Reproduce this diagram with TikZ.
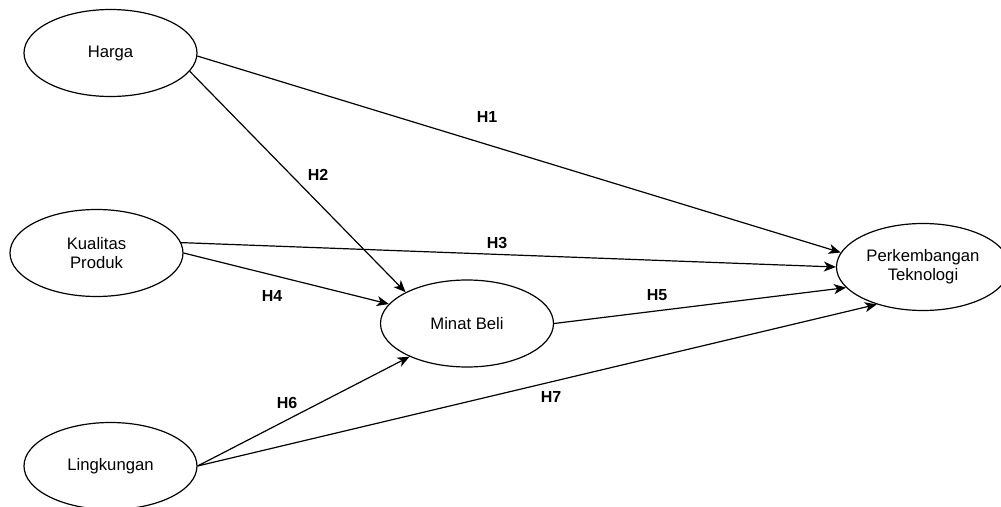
\documentclass[tikz,border=0pt]{standalone}
\usepackage{fontspec}
\setmainfont{Liberation Sans}
\usetikzlibrary{arrows.meta,shapes.geometric}

\begin{document}
\begin{tikzpicture}[x=0.75pt,y=-0.75pt]
	\tikzstyle{var}=[ellipse,draw,line width=0.9pt,minimum width=129.75pt,minimum height=65.25pt,inner sep=0pt,align=center,font=\fontsize{12.5pt}{14.5pt}\selectfont]
	\tikzstyle{hyp}=[font=\bfseries\fontsize{12pt}{14pt}\selectfont]
	\tikzstyle{path}=[line width=0.9pt,-{Stealth[length=9pt,width=7.5pt,inset=2.5pt]}]

	\useasboundingbox (0,0) rectangle (1001,507);

	\node[var](harga) at (110.5,53){Harga};
	\node[var](kualitas) at (96.5,253){Kualitas\\Produk};
	\node[var](minat) at (467,323.5){Minat Beli};
	\node[var](tekno) at (923,267){Perkembangan\\Teknologi};
	\node[var](ling) at (110.5,466){Lingkungan};

	\draw[path] (harga.-2) -- (tekno.170);
	\draw[path] (harga.-13) -- (minat.153);
	\draw[path] (kualitas.7) -- (tekno.180);
	\draw[path] (kualitas.0) -- (minat.166);
	\draw[path] (minat.0) -- (tekno.195);
	\draw[path] (ling.0) -- (minat.210);
	\draw[path] (ling.0) -- (tekno.219);

	% hypothesis labels
	\node[hyp](h1) at (487,117){H1};
	\node[hyp](h2) at (318,175){H2};
	\node[hyp](h3) at (497,243){H3};
	\node[hyp](h4) at (272,296){H4};
	\node[hyp](h5) at (657,295){H5};
	\node[hyp](h6) at (287,403){H6};
	\node[hyp](h7) at (551,397){H7};
\end{tikzpicture}
\end{document}
